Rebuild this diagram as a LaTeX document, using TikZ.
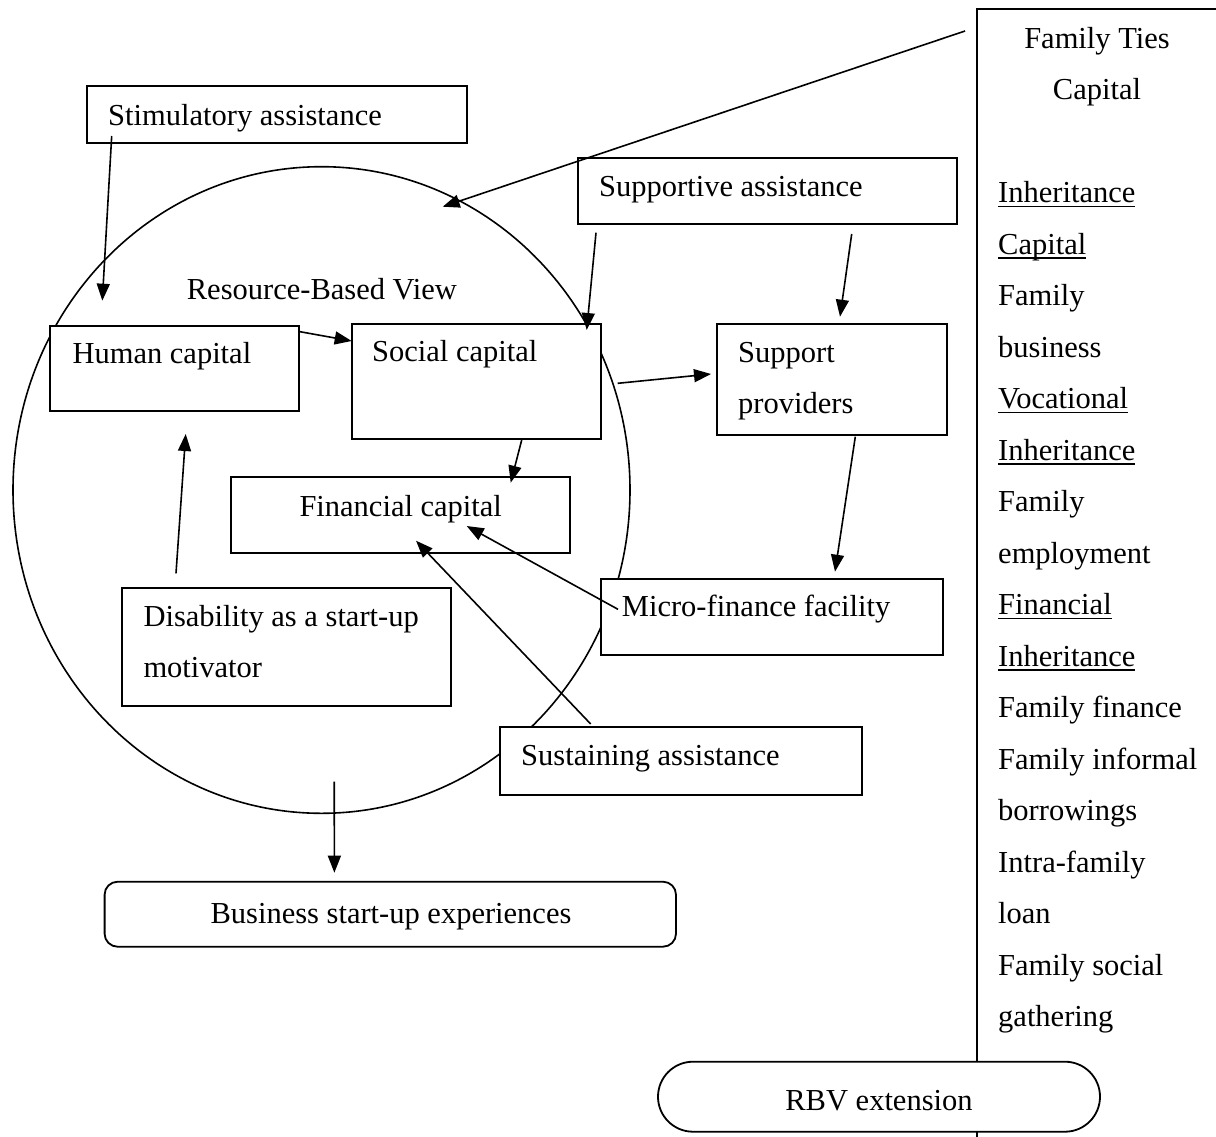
\documentclass[tikz,border=0pt]{standalone}
\usepackage{fontspec}
\setmainfont{Liberation Serif}
\usetikzlibrary{arrows.meta,calc,shapes.geometric}
\newcommand{\figfont}{\fontsize{30.5}{51.5}\selectfont}
% underline set at a fixed depth below the baseline
\newcommand{\famul}[1]{\leavevmode\setbox0\hbox{#1}\rlap{\rule[-4.5pt]{\wd0}{1.7pt}}\box0}

\begin{document}
\begin{tikzpicture}[x=1pt,y=-1pt,
  box/.style={draw, fill=white, line width=1.8pt, inner sep=0pt, outer sep=0pt, anchor=north west},
  rbox/.style={box, rounded corners=13pt},
  pill/.style={box, rounded corners=35pt},
  lbl/.style={anchor=base west, inner sep=0pt, font=\figfont},
  clbl/.style={anchor=base, inner sep=0pt, font=\figfont},
  arr/.style={line width=1.6pt, -{Triangle[length=17pt,width=13pt]}},
  frame/.style={line width=1.8pt}
]
\useasboundingbox (0,0) rectangle (1216,1136);

% resource-based view
\node[ellipse, draw, line width=1.6pt, minimum width=617pt, minimum height=646.6pt,
      inner sep=0pt, outer sep=0pt] (rbv) at (321.5,490) {};

% family ties capital column
\coordinate (famtl) at (977.3,9.3);
\coordinate (famtr) at (1222,9.3);
\coordinate (fambl) at (977.3,1142);
\draw[frame] (famtr) -- (famtl) -- (fambl);

% boxes
\node[box, minimum width=380pt, minimum height=56.7pt] (sti) at (86.7,86) {};
\node[box, minimum width=379pt, minimum height=66pt] (sup) at (578,158) {};
\node[box, minimum width=249.3pt, minimum height=85pt] (hum) at (50,325.7) {};
\node[box, minimum width=249pt, minimum height=115pt] (soc) at (351.7,324) {};
\node[box, minimum width=230.3pt, minimum height=110.7pt] (prov) at (716.7,324) {};
\node[box, minimum width=339.3pt, minimum height=76pt] (fin) at (230.7,477.3) {};
\node[box, minimum width=329pt, minimum height=118pt] (dis) at (121.7,587.7) {};
\node[box, minimum width=342pt, minimum height=76pt] (mic) at (600.7,579) {};
\node[box, minimum width=362pt, minimum height=68.3pt] (sus) at (500,726.7) {};
\node[rbox, minimum width=571.4pt, minimum height=65pt] (bus) at (104.6,881.7) {};
\node[pill, minimum width=442pt, minimum height=70pt] (ext) at (658,1061.7) {};

% labels
\node[lbl] (sti-t) at (108,125) {Stimulatory assistance};
\node[lbl] (sup-t) at (599,196.7) {Supportive assistance};
\node[lbl] (rbv-t) at (186.7,299.3) {Resource-Based View};
\node[lbl] (hum-t) at (72.3,363.3) {Human capital};
\node[lbl] (soc-t) at (372,361.7) {Social capital};
\node[lbl] (prov-t1) at (738,362.3) {Support};
\node[lbl] (prov-t2) at (738,413.3) {providers};
\node[lbl] (fin-t) at (299.3,516) {Financial capital};
\node[lbl] (mic-t) at (621.7,616.7) {Micro-finance facility};
\node[lbl] (dis-t1) at (143.3,626) {Disability as a start-up};
\node[lbl] (dis-t2) at (143.3,677.7) {motivator};
\node[lbl] (sus-t) at (521,765) {Sustaining assistance};
\node[clbl] (bus-t) at (391,923.3) {Business start-up experiences};
\node[clbl] (ext-t) at (879,1110.7) {RBV extension};

\node[clbl] (fam-t1) at (1097,48.2) {Family Ties};
\node[clbl] (fam-t2) at (1097,99.7) {Capital};
\foreach \t [count=\i from 3] in {{\famul{Inheritance}},{\famul{Capital}},Family,business,
    {\famul{Vocational}},{\famul{Inheritance}},Family,employment,
    {\famul{Financial}},{\famul{Inheritance}},Family finance,Family informal,
    borrowings,Intra-family,loan,Family social,gathering}
  \node[lbl] (fam-l\i) at (998,{48.2+51.5*\i}) {\t};

% connectors
\draw[arr] ($(sti.south west)+(25,-6.7)$) -- ($(hum.north west)+(52.3,-25)$);
\draw[arr] ($(famtl)+(-12.3,21.7)$) -- ($(rbv.center)+(121.2,-283.3)$);
\draw[arr] ($(hum.north east)+(0.7,6)$) -- ($(soc.north west)+(0,17)$);
\draw[arr] ($(sup.south west)+(18,8.7)$) -- ($(soc.north east)+(-14,6)$);
\draw[arr] ($(sup.south west)+(273.7,10)$) -- ($(prov.north west)+(123.3,-7.3)$);
\draw[arr] ($(soc.north east)+(17,59.3)$) -- ($(prov.north west)+(-5.7,50)$);
\draw[arr] ($(soc.south west)+(170,1)$) -- ($(fin.north west)+(280,5.4)$);
\draw[arr] ($(dis.north west)+(54.3,-14.4)$) -- ($(hum.south west)+(135.7,23.3)$);
\draw[arr] ($(prov.south west)+(138.6,2)$) -- ($(mic.north west)+(234.3,-7.3)$);
\draw[arr] ($(mic.north west)+(17.3,30.3)$) -- ($(fin.north west)+(236,48.7)$);
\draw[arr] ($(sus.north west)+(90.7,-2.7)$) -- ($(fin.north west)+(185.3,63.4)$);
\draw[arr] ($(rbv.center)+(12.7,291.7)$) -- ($(bus.north west)+(229.8,-9)$);
\end{tikzpicture}
\end{document}
